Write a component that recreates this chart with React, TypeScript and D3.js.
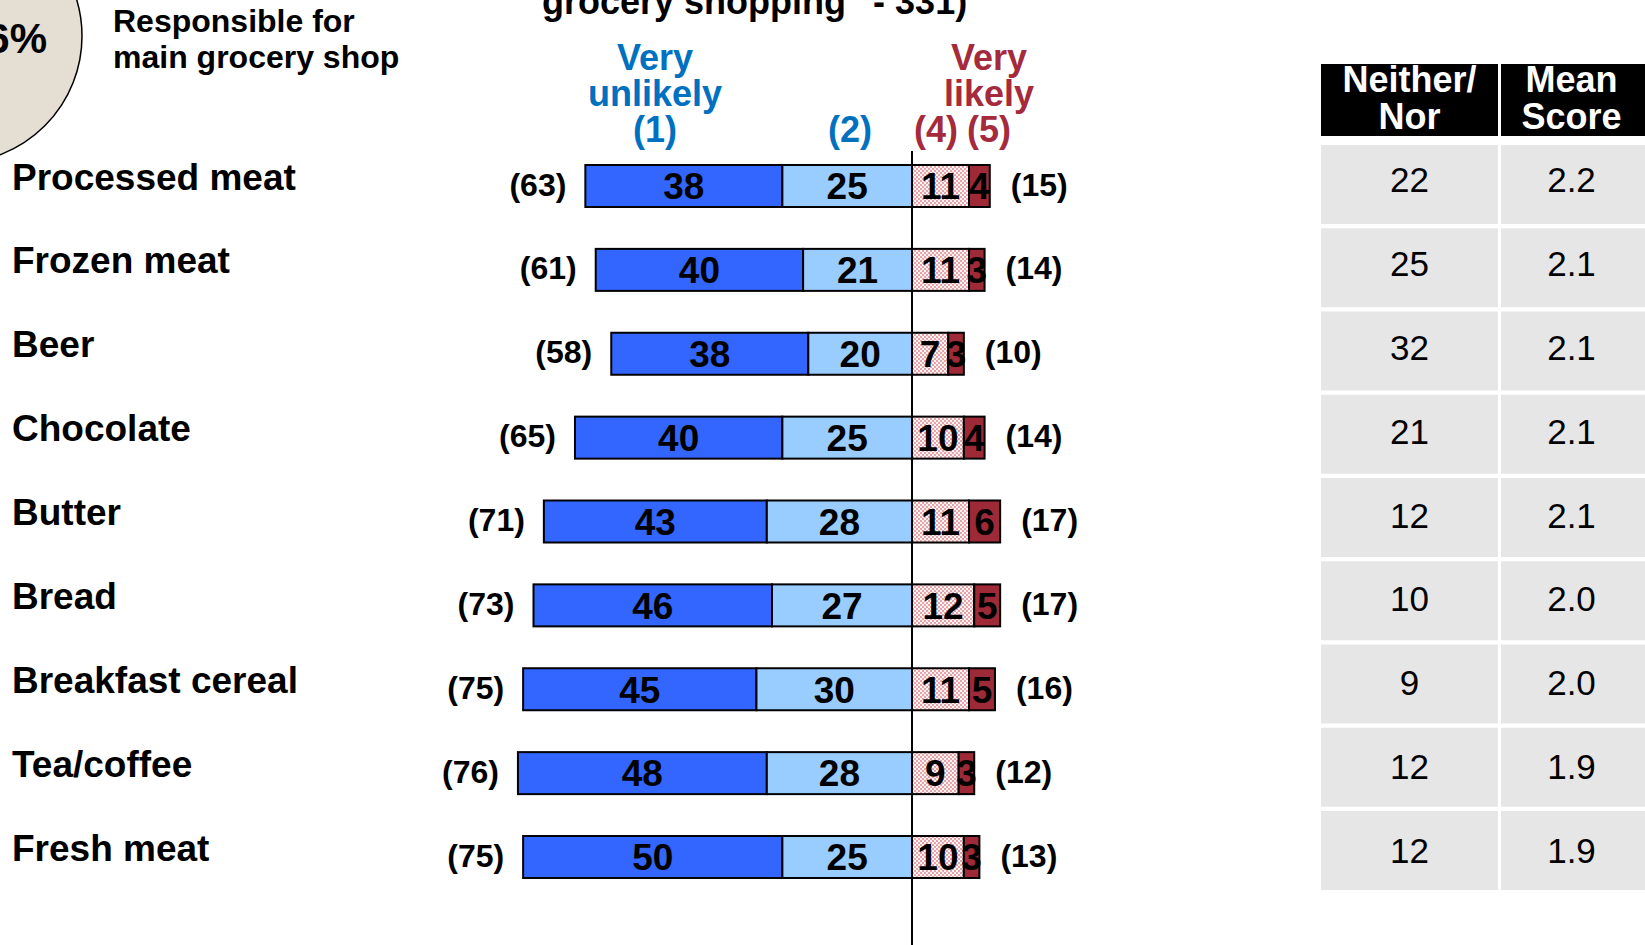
import React from "react";
import * as d3 from "d3";

const categories = [
  "Processed meat",
  "Frozen meat",
  "Beer",
  "Chocolate",
  "Butter",
  "Bread",
  "Breakfast cereal",
  "Tea/coffee",
  "Fresh meat",
];
const veryUnlikely = [38, 40, 38, 40, 43, 46, 45, 48, 50];
const unlikely = [25, 21, 20, 25, 28, 27, 30, 28, 25];
const likely = [11, 11, 7, 10, 11, 12, 11, 9, 10];
const veryLikely = [4, 3, 3, 4, 6, 5, 5, 3, 3];
const totalUnlikely = [63, 61, 58, 65, 71, 73, 75, 76, 75];
const totalLikely = [15, 14, 10, 14, 17, 17, 16, 12, 13];
const neitherNor = [22, 25, 32, 21, 12, 10, 9, 12, 12];
const meanScore = ["2.2", "2.1", "2.1", "2.1", "2.1", "2.0", "2.0", "1.9", "1.9"];

const tableHeaders = [
  ["Neither/", "Nor"],
  ["Mean", "Score"],
];

const W = 1645;
const H = 945;
const FONT = "'Liberation Sans', Arial, Helvetica, sans-serif";

const BLUE_DARK = "#3366FF";
const BLUE_LIGHT = "#99CCFF";
const RED_DARK = "#9E2A38";
const HEAD_BLUE = "#0070C0";
const HEAD_RED = "#A52A3C";

export default function App() {
  const x = d3.scaleLinear().domain([-100, 100]).range([912 - 518.5, 912 + 518.5]);
  const y = d3.scalePoint<string>().domain(categories).range([186, 857]);
  const tableY = d3.scalePoint<string>().domain(categories).range([145, 811]);
  const barH = 42;
  const cellH = 79;
  const col1 = { x0: 1321, x1: 1498 };
  const col2 = { x0: 1501, x1: 1642 };

  const rows = categories.map((c, i) => {
    const vu = veryUnlikely[i];
    const u = unlikely[i];
    const l = likely[i];
    const vl = veryLikely[i];
    return {
      c,
      i,
      segs: [
        { a: -(vu + u), b: -u, v: vu, fill: BLUE_DARK },
        { a: -u, b: 0, v: u, fill: BLUE_LIGHT },
        { a: 0, b: l, v: l, fill: "url(#dots)" },
        { a: l, b: l + vl, v: vl, fill: RED_DARK },
      ],
      left: -(vu + u),
      right: l + vl,
    };
  });

  return (
    <svg
      width={W}
      height={H}
      viewBox={`0 0 ${W} ${H}`}
      style={{ position: "absolute", left: 0, top: 0, display: "block", background: "#fff" }}
      fontFamily={FONT}
    >
      <defs>
        <pattern id="dots" width="4" height="4" patternUnits="userSpaceOnUse">
          <rect width="4" height="4" fill="#FFF2F2" />
          <circle cx="1" cy="1" r="0.75" fill="#C0303F" />
          <circle cx="3" cy="3" r="0.75" fill="#C0303F" />
        </pattern>
      </defs>

      {/* top-left circle */}
      <circle cx={-45} cy={36} r={127} fill="#E4DED3" stroke="#000" strokeWidth={1.5} />
      <text x={47} y={53} textAnchor="end" fontSize={42} fontWeight="bold" fill="#000">
        6%
      </text>
      <text x={113} y={32} fontSize={32} fontWeight="bold" fill="#000">
        Responsible for
      </text>
      <text x={113} y={68} fontSize={32} fontWeight="bold" fill="#000">
        main grocery shop
      </text>

      {/* title (cut off at top) */}
      <text x={542} y={14} fontSize={36} fontWeight="bold" fill="#000">
        grocery shopping" - 331)
      </text>

      {/* column headers */}
      <g fontSize={36} fontWeight="bold" textAnchor="middle">
        <text x={655} y={70} fill={HEAD_BLUE}>Very</text>
        <text x={655} y={106} fill={HEAD_BLUE}>unlikely</text>
        <text x={655} y={142} fill={HEAD_BLUE}>(1)</text>
        <text x={850} y={142} fill={HEAD_BLUE}>(2)</text>
        <text x={989} y={70} fill={HEAD_RED}>Very</text>
        <text x={989} y={106} fill={HEAD_RED}>likely</text>
        <text x={936} y={142} fill={HEAD_RED}>(4)</text>
        <text x={989} y={142} fill={HEAD_RED}>(5)</text>
      </g>

      {/* category labels */}
      {rows.map((r) => (
        <text
          key={"lab" + r.i}
          x={12}
          y={(y(r.c) as number) + 3.5}
          fontSize={37}
          fontWeight="bold"
          fill="#000"
        >
          {r.c}
        </text>
      ))}

      {/* bars */}
      {rows.map((r) => {
        const cy = y(r.c) as number;
        return (
          <g key={"bar" + r.i}>
            {r.segs.map((s, k) => (
              <rect
                key={k}
                x={x(s.a)}
                y={cy - barH / 2}
                width={x(s.b) - x(s.a)}
                height={barH}
                fill={s.fill}
                stroke="#000"
                strokeWidth={2}
              />
            ))}
            {r.segs.map((s, k) => (
              <text
                key={"t" + k}
                x={(x(s.a) + x(s.b)) / 2}
                y={cy}
                dy="0.36em"
                textAnchor="middle"
                fontSize={37}
                fontWeight="bold"
                fill="#000"
              >
                {s.v}
              </text>
            ))}
            <text
              x={x(r.left) - 19}
              y={cy}
              dy="0.3em"
              textAnchor="end"
              fontSize={32}
              fontWeight="bold"
              fill="#000"
            >
              ({totalUnlikely[r.i]})
            </text>
            <text
              x={x(r.right) + 21}
              y={cy}
              dy="0.3em"
              textAnchor="start"
              fontSize={32}
              fontWeight="bold"
              fill="#000"
            >
              ({totalLikely[r.i]})
            </text>
          </g>
        );
      })}

      {/* zero axis */}
      <line x1={x(0)} x2={x(0)} y1={151} y2={H} stroke="#000" strokeWidth={2} />

      {/* table header */}
      {[col1, col2].map((col, k) => (
        <g key={"th" + k}>
          <rect x={col.x0} y={64} width={k === 1 ? W - col.x0 : col.x1 - col.x0} height={72} fill="#000" />
          <text
            x={(col.x0 + col.x1) / 2}
            y={92}
            textAnchor="middle"
            fontSize={36}
            fontWeight="bold"
            fill="#fff"
          >
            {tableHeaders[k][0]}
          </text>
          <text
            x={(col.x0 + col.x1) / 2}
            y={129}
            textAnchor="middle"
            fontSize={36}
            fontWeight="bold"
            fill="#fff"
          >
            {tableHeaders[k][1]}
          </text>
        </g>
      ))}

      {/* table body */}
      {rows.map((r) => {
        const ty = tableY(r.c) as number;
        const cy = y(r.c) as number;
        return (
          <g key={"tr" + r.i}>
            <rect x={col1.x0} y={ty} width={col1.x1 - col1.x0} height={cellH} fill="#E6E6E6" />
            <rect x={col2.x0} y={ty} width={W - col2.x0} height={cellH} fill="#E6E6E6" />
            <text
              x={(col1.x0 + col1.x1) / 2}
              y={cy - 6.5}
              dy="0.36em"
              textAnchor="middle"
              fontSize={35}
              fill="#000"
            >
              {neitherNor[r.i]}
            </text>
            <text
              x={(col2.x0 + col2.x1) / 2}
              y={cy - 6.5}
              dy="0.36em"
              textAnchor="middle"
              fontSize={35}
              fill="#000"
            >
              {meanScore[r.i]}
            </text>
          </g>
        );
      })}
    </svg>
  );
}
